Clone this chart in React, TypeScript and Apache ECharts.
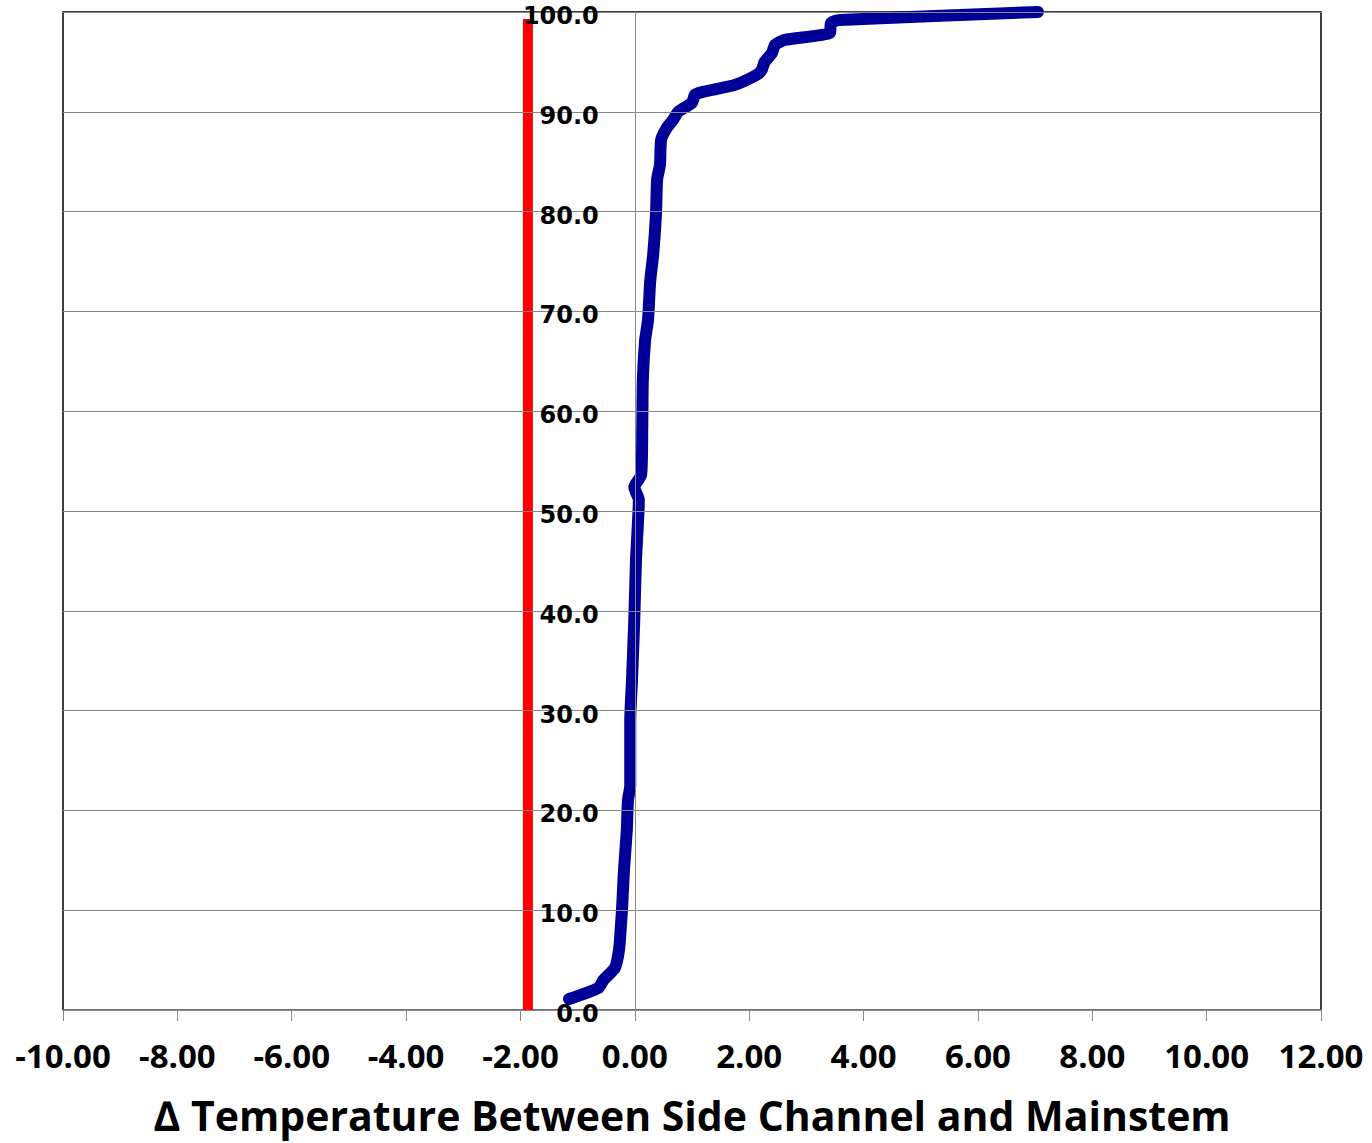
import React, { useEffect, useRef } from "react";
import * as echarts from "echarts";

const xTicks = [-10, -8, -6, -4, -2, 0, 2, 4, 6, 8, 10, 12];
const yTicks = [0, 10, 20, 30, 40, 50, 60, 70, 80, 90, 100];

// Cumulative distribution (percent) of temperature difference
const deltaTemp = [
  -1.15, -0.64, -0.55, -0.35, -0.29, -0.26, -0.22, -0.19, -0.14, -0.12, -0.08,
  -0.08, -0.05, -0.01, 0.02, 0.07, -0.01, 0.11, 0.13, 0.14, 0.18, 0.23, 0.27,
  0.32, 0.37, 0.39, 0.44, 0.46, 0.56, 0.67, 0.76, 1.0, 1.05, 1.19, 1.75, 2.13,
  2.22, 2.27, 2.4, 2.45, 2.62, 3.41, 3.43, 3.58, 7.05,
];
const cumPercent = [
  1.1, 2.2, 3.0, 4.2, 5.5, 7.0, 10.5, 14.0, 18.0, 21.0, 22.5, 29.0, 33.0, 39.0,
  45.0, 51.1, 52.4, 53.6, 58.1, 63.1, 67.1, 69.1, 73.1, 75.6, 79.7, 83.2, 84.7,
  87.2, 88.4, 89.2, 90.0, 90.9, 91.7, 92.0, 92.7, 93.7, 94.2, 95.0, 95.9, 96.7,
  97.2, 97.9, 98.9, 99.2, 100.0,
];

const thresholdX = [-1.87, -1.87];
const thresholdY = [0, 99.3];

const GRID_LEFT = 63;

export default function App() {
  const ref = useRef<HTMLDivElement>(null);
  useEffect(() => {
    if (!ref.current) return;
    const chart = echarts.init(ref.current, null, { renderer: "svg" });
    const blue = deltaTemp.map((x, i) => [x, cumPercent[i]]);
    const red = thresholdX.map((x, i) => [x, thresholdY[i]]);
    chart.setOption({
      animation: false,
      grid: {
        left: GRID_LEFT,
        right: 51,
        top: 12,
        bottom: 133,
        containLabel: false,
        outerBoundsMode: "none",
        show: true,
        borderColor: "#000",
        borderWidth: 1.5,
        backgroundColor: "transparent",
      },
      xAxis: {
        type: "value",
        min: xTicks[0],
        max: xTicks[xTicks.length - 1],
        interval: 2,
        name: "\u2206 Temperature Between Side Channel and Mainstem",
        nameLocation: "middle",
        nameGap: 84,
        nameTextStyle: {
          fontFamily: "'Open Sans', sans-serif",
          fontWeight: "bold",
          fontSize: 41,
          color: "#000",
        },
        axisLine: { onZero: false, lineStyle: { color: "#888", width: 1.5 } },
        axisTick: { show: true, length: 11, lineStyle: { color: "#888" } },
        splitLine: { show: false },
        axisLabel: {
          margin: 29,
          fontFamily: "'Open Sans', sans-serif",
          fontWeight: "bold",
          fontSize: 33,
          color: "#000",
          formatter: (v: number) => v.toFixed(2),
        },
      },
      yAxis: {
        type: "value",
        min: yTicks[0],
        max: yTicks[yTicks.length - 1],
        interval: 10,
        z: 10,
        axisLine: { show: true, onZero: false, lineStyle: { color: "#888", width: 1 } },
        axisTick: { show: true, length: 11, lineStyle: { color: "#888" } },
        splitLine: { show: true, lineStyle: { color: "#888", width: 1 } },
        axisLabel: {
          margin: 36,
          color: "#000",
          formatter: (v: number) => "{a|" + v.toFixed(1) + "}",
          rich: {
            a: {
              fontFamily: "'DejaVu Sans', sans-serif",
              fontWeight: "bold",
              fontSize: 24,
              lineHeight: 22,
              padding: [8, 0, 0, 0],
              color: "#000",
            },
          },
        },
      },
      series: [
        {
          type: "line",
          data: red,
          symbol: "none",
          z: 2,
          lineStyle: { color: "#ff0000", width: 10 },
        },
        {
          type: "line",
          data: blue,
          symbol: "none",
          z: 3,
          smooth: 0.2,
          lineStyle: { color: "#000099", width: 12, cap: "round", join: "round" },
        },
      ],
    });
    // move the y axis to x = 0 (labels and ticks included)
    const zeroPx = chart.convertToPixel({ xAxisIndex: 0 }, 0) as number;
    chart.setOption({ yAxis: { offset: GRID_LEFT - zeroPx } });
    return () => chart.dispose();
  }, []);
  return (
    <div
      ref={ref}
      style={{ position: "fixed", left: 0, top: 0, width: 1372, height: 1143, background: "#fff" }}
    />
  );
}
